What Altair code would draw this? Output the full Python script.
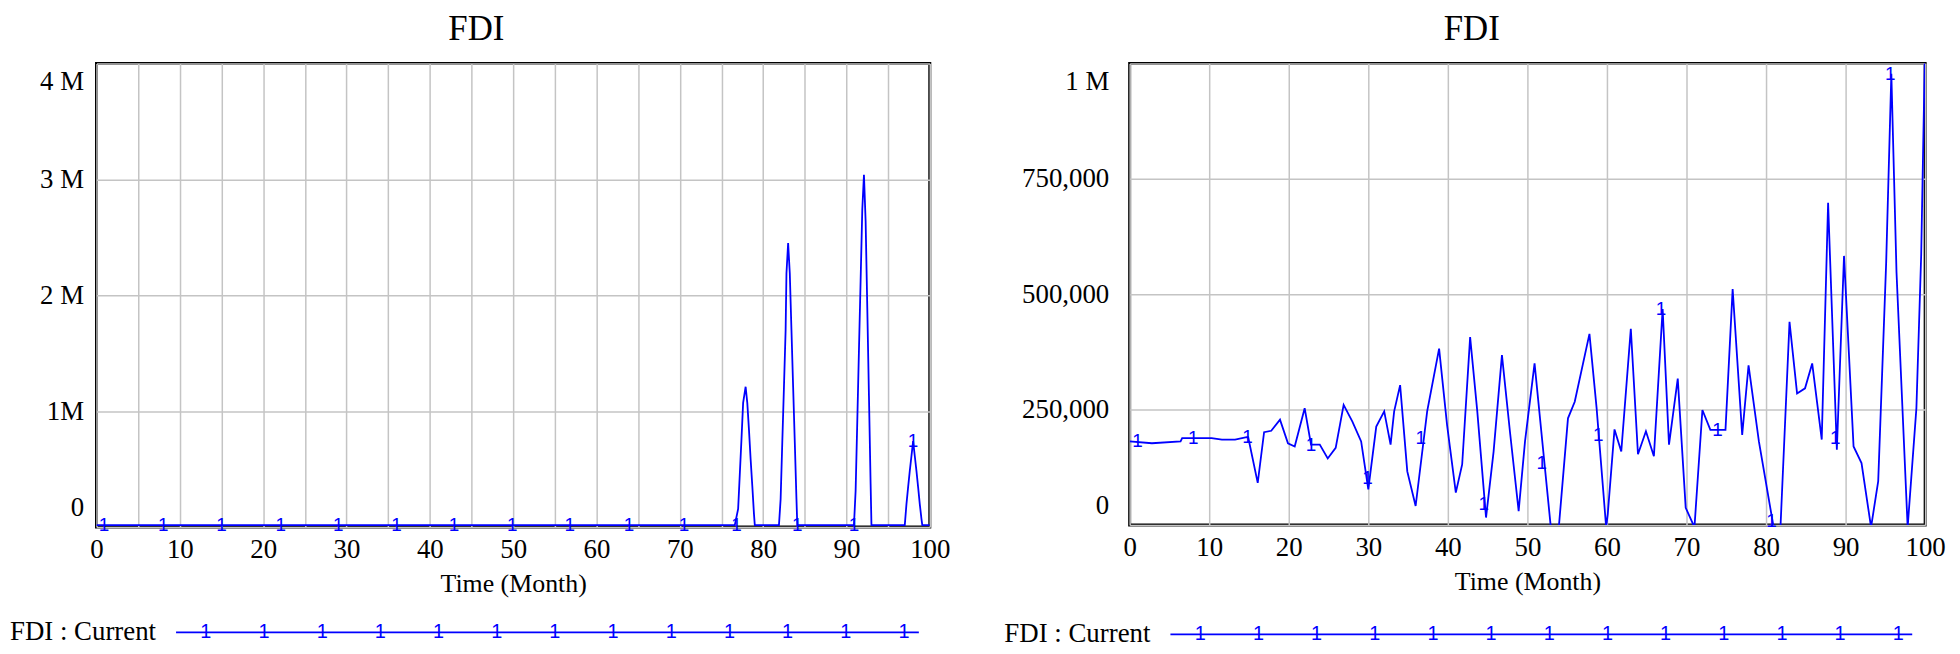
import altair as alt
import pandas as pd

# ---------------- data ----------------
title_text = "FDI"
x_title = "Time (Month)"
legend_label = "FDI : Current"
x_tick_values = list(range(0, 101, 5))

# left panel
left_time = [0, 76.6, 77.0, 77.2, 77.4, 77.6, 77.9, 78.1, 78.3, 78.5, 78.7, 78.9, 79.0,
             81.9, 82.1, 82.3, 82.5, 82.7, 82.8, 83.0, 83.2, 83.4, 83.6, 83.8, 84.0, 84.1,
             90.9, 91.1, 91.3, 91.5, 91.7, 91.9, 92.1, 92.3, 92.5, 92.7, 92.9, 93.0,
             97.0, 97.2, 97.4, 97.6, 97.8, 98.0, 98.2, 98.4, 98.6, 98.8, 99.0, 99.1, 100]
left_value = [15000, 15000, 155000, 455000, 755000, 1070000, 1210000, 1070000, 840000, 584000, 355000, 112000, 15000,
              15000, 240000, 730000, 1210000, 1700000, 2190000, 2450000, 2190000, 1700000, 1210000, 730000, 240000, 15000,
              15000, 312000, 912000, 1530000, 2130000, 2740000, 3040000, 2640000, 1890000, 1130000, 369000, 15000,
              15000, 197000, 343000, 483000, 612000, 741000, 612000, 483000, 343000, 197000, 69000, 15000, 15000]
left_marker_time = [0.9, 8.0, 15.0, 22.1, 29.0, 36.0, 42.9, 49.9, 56.8, 63.9, 70.5, 76.8, 84.1, 90.9, 98.0]
left_marker_value = [15000] * 14 + [741000]
left_y_ticks = [0, 1000000, 2000000, 3000000, 4000000]
left_y_labels = ["0", "1M", "2 M", "3 M", "4 M"]

# right panel
right_time = [0, 2.8, 6.4, 6.6, 10.3, 11.6, 13.25, 14.7, 14.9, 16.1, 16.9, 17.8, 18.9, 19.9, 20.75,
              22.0, 22.8, 23.9, 24.9, 25.9, 26.9, 28.0, 29.1, 30.0, 31.0, 32.0, 32.8, 33.25, 34.0,
              34.9, 35.95, 37.4, 38.9, 39.9, 41.0, 41.8, 42.8, 43.7, 44.8, 45.75, 46.8, 47.8, 48.9,
              49.7, 50.9, 53.0, 53.9, 55.1, 55.95, 57.8, 58.7, 59.9, 60.1, 60.95, 61.8, 63.0, 63.9,
              64.9, 65.9, 67.0, 67.8, 68.9, 69.9, 71.0, 72.0, 73.0, 74.9, 75.8, 77.0, 77.8, 79.1,
              81.0, 81.8, 82.95, 83.9, 84.9, 85.8, 87.0, 87.8, 88.9, 89.8, 91.0, 92.0, 93.2, 94.1,
              95.1, 95.75, 96.4, 97.8, 98.9, 99.5, 100]
right_value = [181000, 177000, 181000, 188000, 188000, 185000, 185000, 190000, 190000, 91000, 201000, 204000, 228000, 177000, 170000,
               253000, 174000, 174000, 144000, 167000, 260000, 224000, 181000, 77000, 213000, 246000, 174000, 246000, 303000,
               116000, 41000, 246000, 382000, 217000, 70000, 131000, 407000, 246000, 16000, 159000, 368000, 203000, 30000,
               181000, 350000, -15000, -15000, 231000, 267000, 414000, 253000, -5000, 23000, 207000, 159000, 425000, 153000,
               203000, 149000, 468000, 174000, 317000, 37000, -5000, 249000, 206000, 206000, 511000, 195000, 346000, 181000,
               -10000, -10000, 440000, 285000, 296000, 350000, 185000, 698000, 163000, 583000, 170000, 134000, -5000, 95000,
               569000, 978000, 547000, -5000, 253000, 584000, 1050000]
right_marker_time = [1.0, 8.0, 14.8, 22.8, 29.9, 36.6, 44.5, 51.8, 58.9, 66.8, 73.9, 80.7, 88.7, 95.6]
right_marker_value = [181000, 188000, 190000, 174000, 102000, 188000, 45000, 134000, 195000, 468000, 206000, 9000, 188000, 978000]
right_y_ticks = [0, 250000, 500000, 750000, 1000000]
right_y_labels = ["0", "250,000", "500,000", "750,000", "1 M"]

BLUE = "#0000FF"
SERIF = "Liberation Serif"


def label_expr(ticks, labels):
    expr = "''"
    for t, l in zip(ticks, labels):
        expr = f"datum.value == {t} ? '{l}' : ({expr})"
    return expr


def panel(times, values, m_t, m_v, y_ticks, y_labels, width, height, y_label_pad,
          title_dx, leg_text_x, leg_x0, leg_x1, leg_first, leg_y):
    df = pd.DataFrame({"t": times, "v": values})
    mdf = pd.DataFrame({"t": m_t, "v": m_v})
    # legend marker positions converted from pixel offsets to time units
    leg_df = pd.DataFrame({"t": [(leg_first + 58.5 * k) / width * 100 for k in range(13)]})

    xs = alt.Scale(domain=[0, 100], nice=False, zero=False)
    ys = alt.Scale(domain=[y_ticks[0], y_ticks[-1]], nice=False, zero=False)
    x = alt.X("t:Q", scale=xs, title=x_title,
              axis=alt.Axis(values=x_tick_values,
                            labelExpr="datum.value % 10 == 0 ? datum.label : ''",
                            labelFlush=False, labelPadding=10, titlePadding=8,
                            gridColor="#c4c4c4", gridWidth=1.5))
    y = alt.Y("v:Q", scale=ys, title=None,
              axis=alt.Axis(values=y_ticks, labelExpr=label_expr(y_ticks, y_labels),
                            labelFlush=True, labelFlushOffset=-5, labelPadding=y_label_pad,
                            gridColor="#c4c4c4", gridWidth=1.5))

    line = alt.Chart(df).mark_line(color=BLUE, strokeWidth=1.8, clip=True).encode(x=x, y=y)
    marks = alt.Chart(mdf).mark_text(text="1", font="Liberation Sans", fontSize=19,
                                     color=BLUE, baseline="middle").encode(x="t:Q", y="v:Q")
    leg_rule = alt.Chart(pd.DataFrame({"a": [0]})).mark_rule(color=BLUE, strokeWidth=1.8).encode(
        x=alt.value(leg_x0), x2=alt.value(leg_x1), y=alt.value(leg_y))
    leg_text = alt.Chart(pd.DataFrame({"a": [0]})).mark_text(
        text=legend_label, align="left", baseline="middle", font=SERIF, fontSize=27,
        color="black").encode(x=alt.value(leg_text_x), y=alt.value(leg_y))
    leg_marks = alt.Chart(leg_df).mark_text(text="1", font="Liberation Sans", fontSize=20,
                                            color=BLUE, baseline="middle").encode(
        x="t:Q", y=alt.value(leg_y))

    return alt.layer(line, marks, leg_rule, leg_text, leg_marks).properties(
        width=width, height=height,
        title=alt.TitleParams(title_text, font=SERIF, fontSize=35, fontWeight="normal",
                              color="black", anchor="middle", dx=title_dx, offset=17),
    )


left = panel(left_time, left_value, left_marker_time, left_marker_value,
             left_y_ticks, left_y_labels, 838, 466, 13, -37, -87, 80, 827, 110, 572)
right = panel(right_time, right_value, right_marker_time, right_marker_value,
              right_y_ticks, right_y_labels, 800, 464, 21, -56, -126, 41, 787, 71, 574)

chart = alt.hconcat(left, right, spacing=201, bounds="flush").properties(
    padding={"left": 0, "top": 0, "right": 5, "bottom": 5}
).configure_view(stroke="black", strokeWidth=3).configure_axis(
    domain=False, ticks=False, tickSize=0,
    labelFont=SERIF, labelFontSize=27, labelColor="black",
    titleFont=SERIF, titleFontSize=26, titleFontWeight="normal", titleColor="black",
).configure_title(font=SERIF)

chart.save("out.html", embed_options={"renderer": "svg", "actions": False})
